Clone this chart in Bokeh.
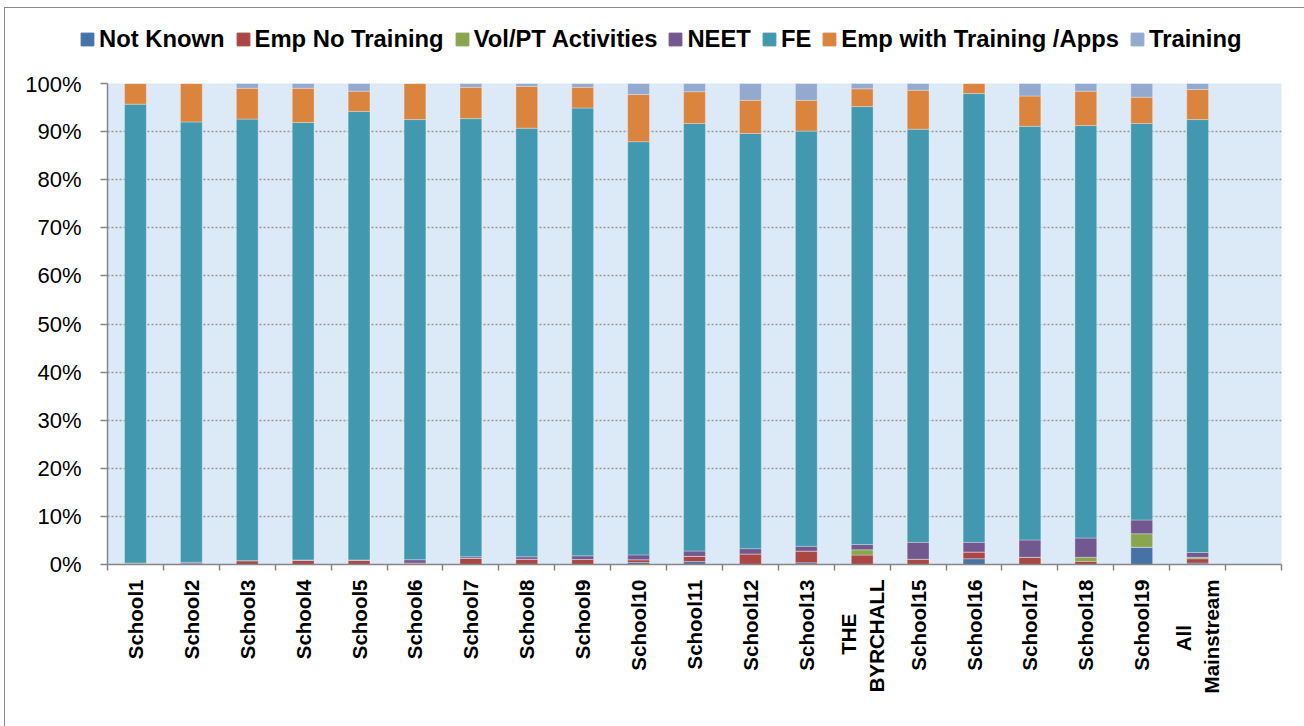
import math
from bokeh.plotting import figure
from bokeh.layouts import column
from bokeh.models import (ColumnDataSource, FixedTicker, Legend, LegendItem,
                          PrintfTickFormatter, Range1d)
from bokeh.embed import file_html
from bokeh.resources import INLINE

NB = "\u00a0"
schools = ["School1", "School2", "School3", "School4", "School5", "School6",
           "School7", "School8", "School9", "School10", "School11", "School12",
           "School13", "THE" + NB * 6 + "\nBYRCHALL", "School15", "School16",
           "School17", "School18", "School19", "All" + NB * 8 + "\nMainstream"]

series_names = ["Not Known", "Emp No Training", "Vol/PT Activities", "NEET",
                "FE", "Emp with Training /Apps", "Training"]

# values in percent
not_known = [0, 0, 0, 0, 0, 0, 0, 0, 0, 0.4, 0.6, 0, 0.35, 0, 0, 1.2, 0, 0, 3.6, 0.3]
emp_no_training = [0, 0.15, 0.8, 0.85, 0.85, 0.3, 1.3, 1.1, 1.05, 0.6, 1.1, 2.2,
                   2.45, 1.95, 1.1, 1.4, 1.5, 0.65, 0, 0.9]
vol_pt = [0.3, 0, 0, 0, 0, 0, 0, 0, 0, 0, 0, 0, 0, 1.1, 0, 0, 0, 0.85, 2.8, 0.3]
neet = [0, 0.3, 0, 0.1, 0.1, 0.7, 0.3, 0.5, 0.75, 1.0, 1.1, 1.1, 1.0, 1.1, 3.5,
        2.0, 3.6, 4.0, 2.85, 1.0]
fe = [95.4, 91.55, 91.8, 90.95, 93.25, 91.5, 91.1, 89.1, 93.1, 85.9, 88.9, 86.3,
      86.3, 91.05, 85.9, 93.3, 86.0, 85.75, 82.45, 90.0]
emp_with_training = [4.3, 8.0, 6.4, 7.1, 4.2, 7.5, 6.5, 8.7, 4.3, 9.8, 6.6, 6.9,
                     6.4, 3.7, 8.1, 2.1, 6.3, 7.15, 5.45, 6.25]
training = [0, 0, 1.0, 1.0, 1.6, 0, 0.8, 0.6, 0.8, 2.3, 1.7, 3.5, 3.5, 1.1, 1.4,
            0, 2.6, 1.6, 2.85, 1.25]

y_ticks = [0, 10, 20, 30, 40, 50, 60, 70, 80, 90, 100]

colors = ["#4572A7", "#AA4643", "#89A54E", "#71588F", "#4198AF", "#DB843D", "#93A9CF"]

x = list(range(1, len(schools) + 1))
n_slots = len(schools) + 1  # one empty slot at the end

source = ColumnDataSource(dict(
    x=x, not_known=not_known, emp_no_training=emp_no_training, vol_pt=vol_pt,
    neet=neet, fe=fe, emp_with_training=emp_with_training, training=training))
stackers = ["not_known", "emp_no_training", "vol_pt", "neet", "fe",
            "emp_with_training", "training"]

FONT = "Liberation Sans"
AXIS_COLOR = "#868686"

# ---------- legend strip (separate figure so it can sit anywhere) ----------
lg = figure(width=1299, height=63, output_backend="svg", toolbar_location=None,
            x_axis_type=None, y_axis_type=None,
            x_range=Range1d(0, 1), y_range=Range1d(0, 1))
lg.min_border_left = 0
lg.min_border_right = 0
lg.min_border_top = 0
lg.min_border_bottom = 0
lg.outline_line_color = None
lg.background_fill_color = "white"
lg.xgrid.visible = False
lg.ygrid.visible = False
# key swatches only (their single bar lies outside the visible range)
legend_renderers = [lg.vbar(x=[5], top=[1], width=0.1, color=c) for c in colors]
items = [LegendItem(label=name, renderers=[r])
         for name, r in zip(series_names, legend_renderers)]
legend = Legend(items=items, orientation="horizontal", location=(74, 18),
                glyph_width=16, glyph_height=16, label_standoff=4, spacing=10,
                padding=0, margin=0, border_line_color=None,
                background_fill_alpha=0,
                label_text_font=FONT, label_text_font_style="bold",
                label_text_font_size="23.8px", label_text_color="black")
lg.add_layout(legend, "center")

# ---------- main chart ----------
p = figure(width=1299, height=655, output_backend="svg", toolbar_location=None,
           x_range=Range1d(0.5, n_slots + 0.5), y_range=Range1d(0, 100))
p.min_border_left = 102
p.min_border_right = 23
p.min_border_top = 12
p.min_border_bottom = 162
p.background_fill_color = "#dce9f6"
p.border_fill_color = "white"
p.outline_line_color = None

p.vbar_stack(stackers, x="x", width=0.39, color=colors, source=source,
             line_color="white", line_alpha=0.3, line_width=1)

# x axis
xa = p.xaxis[0]
xa.ticker = FixedTicker(ticks=x, minor_ticks=[i + 0.5 for i in range(0, n_slots + 1)])
xa.major_label_overrides = {i: s for i, s in zip(x, schools)}
xa.major_label_orientation = math.pi / 2
xa.major_tick_out = 0
xa.major_tick_in = 0
xa.minor_tick_out = 6
xa.minor_tick_in = 0
xa.minor_tick_line_color = AXIS_COLOR
xa.minor_tick_line_width = 1.5
xa.axis_line_color = AXIS_COLOR
xa.axis_line_width = 1.5
xa.major_label_standoff = 9
xa.major_label_text_font = FONT
xa.major_label_text_font_style = "bold"
xa.major_label_text_font_size = "20.5px"
xa.major_label_text_color = "black"

# y axis
ya = p.yaxis[0]
ya.ticker = FixedTicker(ticks=y_ticks)
ya.formatter = PrintfTickFormatter(format="%d%%")
ya.major_tick_out = 7
ya.major_tick_in = 0
ya.minor_tick_out = 0
ya.minor_tick_in = 0
ya.major_tick_line_color = AXIS_COLOR
ya.major_tick_line_width = 1.5
ya.axis_line_color = AXIS_COLOR
ya.axis_line_width = 1.5
ya.major_label_standoff = 19
ya.major_label_text_font = FONT
ya.major_label_text_font_size = "22px"
ya.major_label_text_color = "black"

p.xgrid.visible = False
p.ygrid.ticker = FixedTicker(ticks=y_ticks)
p.ygrid.grid_line_color = "#999999"
p.ygrid.grid_line_dash = "2 2"
p.ygrid.grid_line_width = 1.5

layout = column(column(lg), column(p), spacing=0,
                styles={"margin-left": "4px", "margin-top": "7px",
                        "border-left": "1px solid #8a8a8a",
                        "border-top": "1px solid #8a8a8a"})

open("out.html", "w").write(file_html(layout, INLINE))
